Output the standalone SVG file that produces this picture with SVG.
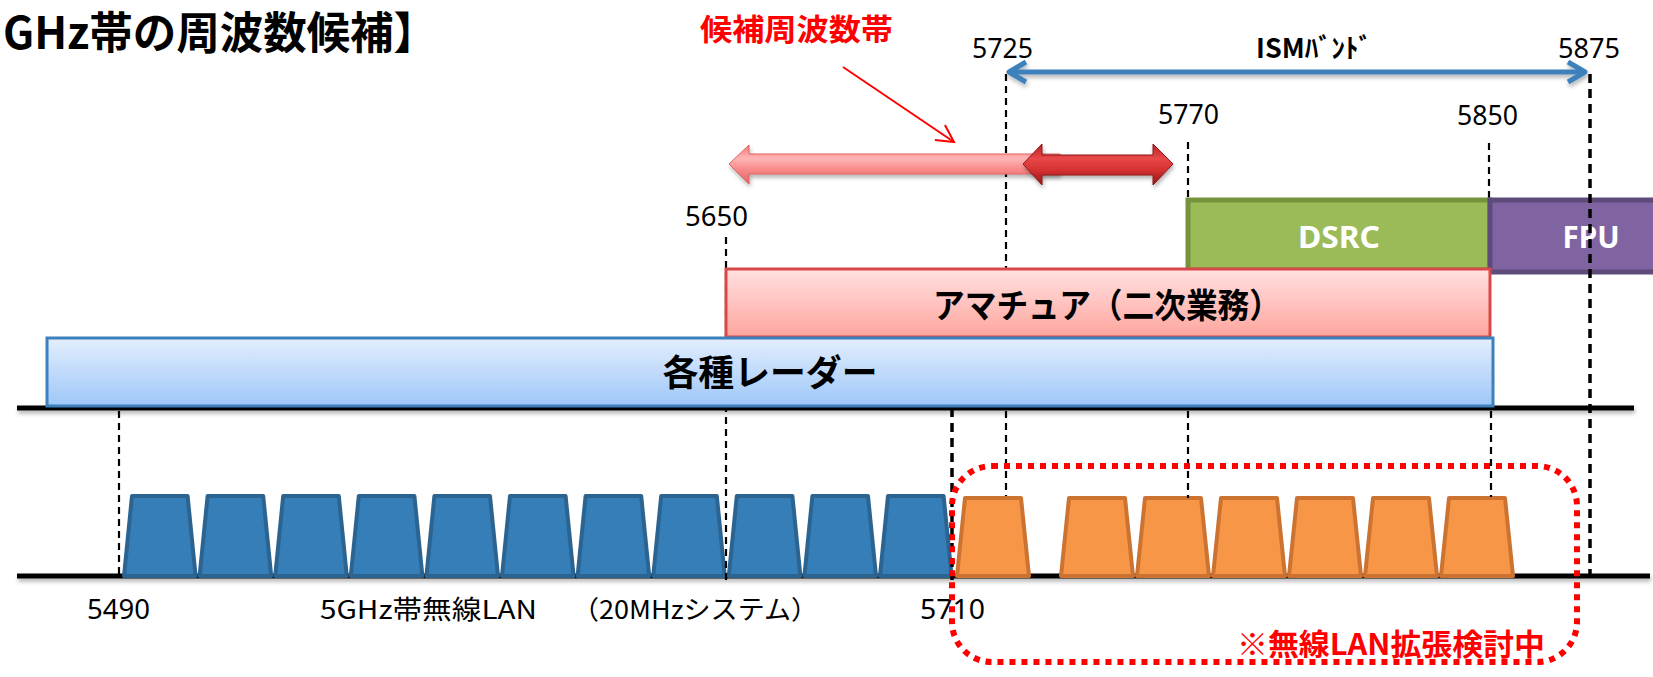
<svg xmlns="http://www.w3.org/2000/svg" xmlns:xlink="http://www.w3.org/1999/xlink" width="1653" height="677" viewBox="0 0 1653 677">
<defs>
<style>
.jp{font-family:'Noto Sans CJK JP','Noto Sans',sans-serif}
.b{font-weight:bold}
.num{font-family:'Noto Sans','Liberation Sans',sans-serif;font-size:28px;fill:#000}
.lbl{font-family:'Noto Sans CJK JP','Noto Sans',sans-serif;font-size:26px;fill:#000}
.dash{stroke:#000;stroke-width:2.2;stroke-dasharray:7 5;fill:none}
.dashb{stroke:#000;stroke-width:3.5;stroke-dasharray:9 6;fill:none}
.tb{fill:#357EB8;stroke:#2C6491;stroke-width:4;stroke-linejoin:round}
.to{fill:#F79646;stroke:#CC7332;stroke-width:4;stroke-linejoin:round}
.wt{font-family:'Noto Sans','Liberation Sans',sans-serif;font-weight:bold;font-size:30px;fill:#fff}
</style>
<linearGradient id="gRadar" x1="0" y1="0" x2="0" y2="1"><stop offset="0" stop-color="#E3EEFD"/><stop offset="1" stop-color="#9EC7F8"/></linearGradient>
<linearGradient id="gAma" x1="0" y1="0" x2="0" y2="1"><stop offset="0" stop-color="#FFE1E0"/><stop offset="1" stop-color="#FFA59E"/></linearGradient>
<linearGradient id="gLight" x1="0" y1="0" x2="0" y2="1"><stop offset="0" stop-color="#F77C7C"/><stop offset="0.35" stop-color="#FFB5B5"/><stop offset="0.6" stop-color="#F98D8D"/><stop offset="1" stop-color="#E46262"/></linearGradient>
<linearGradient id="gDark" x1="0" y1="0" x2="0" y2="1"><stop offset="0" stop-color="#B52222"/><stop offset="0.35" stop-color="#E84848"/><stop offset="0.65" stop-color="#D43030"/><stop offset="1" stop-color="#8E1818"/></linearGradient>
<filter id="sh" filterUnits="userSpaceOnUse" x="0" y="0" width="1653" height="677"><feDropShadow dx="1" dy="3" stdDeviation="2" flood-color="#000" flood-opacity="0.3"/></filter>
<polygon id="tbs" points="2,81 10,1 65.6,1 73.6,81"/>
<polygon id="tos" points="2,78 10,0 66,0 74,78"/>
<marker id="redHead" viewBox="0 0 20 20" refX="18" refY="10" markerWidth="20" markerHeight="20" markerUnits="userSpaceOnUse" orient="auto"><polyline points="1,1 18,10 1,19" fill="none" stroke="#FF0000" stroke-width="2"/></marker>
</defs>
<rect width="1653" height="677" fill="#fff"/>

<g id="title"><text class="jp b" x="3" y="49" font-size="44" textLength="434" lengthAdjust="spacingAndGlyphs">GHz帯の周波数候補】</text></g>

<g id="axes" filter="url(#sh)">
<rect x="17" y="405.5" width="1617" height="5" fill="#000"/>
<rect x="17" y="573.5" width="1633" height="5" fill="#000"/>
</g>

<g id="wlan-blue">
<use xlink:href="#tbs" href="#tbs" class="tb" x="122" y="495"/>
<use xlink:href="#tbs" href="#tbs" class="tb" x="197.6" y="495"/>
<use xlink:href="#tbs" href="#tbs" class="tb" x="273.2" y="495"/>
<use xlink:href="#tbs" href="#tbs" class="tb" x="348.8" y="495"/>
<use xlink:href="#tbs" href="#tbs" class="tb" x="424.4" y="495"/>
<use xlink:href="#tbs" href="#tbs" class="tb" x="500" y="495"/>
<use xlink:href="#tbs" href="#tbs" class="tb" x="575.6" y="495"/>
<use xlink:href="#tbs" href="#tbs" class="tb" x="651.2" y="495"/>
<use xlink:href="#tbs" href="#tbs" class="tb" x="726.8" y="495"/>
<use xlink:href="#tbs" href="#tbs" class="tb" x="802.4" y="495"/>
<use xlink:href="#tbs" href="#tbs" class="tb" x="878" y="495"/>
</g>

<g id="wlan-orange">
<use xlink:href="#tos" href="#tos" class="to" x="955" y="498"/>
<use xlink:href="#tos" href="#tos" class="to" x="1059" y="498"/>
<use xlink:href="#tos" href="#tos" class="to" x="1135" y="498"/>
<use xlink:href="#tos" href="#tos" class="to" x="1211" y="498"/>
<use xlink:href="#tos" href="#tos" class="to" x="1287" y="498"/>
<use xlink:href="#tos" href="#tos" class="to" x="1363" y="498"/>
<use xlink:href="#tos" href="#tos" class="to" x="1439" y="498"/>
</g>

<g id="guides">
<line class="dash" x1="119" y1="411" x2="119" y2="575"/>
<line class="dash" x1="726" y1="237" x2="726" y2="584"/>
<line class="dash" x1="1006" y1="74" x2="1006" y2="400"/>
<line class="dash" x1="1006" y1="411" x2="1006" y2="496"/>
<line class="dash" x1="1188" y1="142" x2="1188" y2="200"/>
<line class="dash" x1="1188" y1="411" x2="1188" y2="498"/>
<line class="dash" x1="1489" y1="143" x2="1489" y2="198"/>
<line class="dash" x1="1491" y1="411" x2="1491" y2="497"/>
<line class="dashb" x1="952" y1="408" x2="952" y2="580"/>
</g>

<g id="dsrc">
<rect x="1188" y="200" width="302" height="70" fill="#9BBB59" stroke="#76923C" stroke-width="5"/>
<text class="wt" x="1339" y="248" text-anchor="middle" textLength="82" lengthAdjust="spacingAndGlyphs">DSRC</text>
</g>
<g id="fpu">
<rect x="1490" y="200" width="170" height="72" fill="#8064A2" stroke="#5F4B7A" stroke-width="5"/>
<text class="wt" x="1591" y="248" text-anchor="middle" textLength="57" lengthAdjust="spacingAndGlyphs">FPU</text>
</g>
<g id="amateur">
<rect x="726" y="269" width="764" height="68" fill="url(#gAma)" stroke="#D94848" stroke-width="3"/>
<text class="jp b" x="1107" y="318" font-size="34" text-anchor="middle" textLength="348" lengthAdjust="spacingAndGlyphs">アマチュア（二次業務）</text>
</g>
<g id="radar">
<rect x="47" y="338" width="1446" height="68" fill="url(#gRadar)" stroke="#3C80BC" stroke-width="3"/>
<text class="jp b" x="770" y="386" font-size="36" text-anchor="middle" textLength="215" lengthAdjust="spacingAndGlyphs">各種レーダー</text>
</g>

<g id="guides-top">
<line class="dashb" x1="1590" y1="74" x2="1590" y2="574"/>
</g>

<g id="connectors">
<g filter="url(#sh)">
<line x1="1010" y1="72" x2="1584" y2="72" stroke="#3C80BC" stroke-width="5"/>
<polyline points="1026,62 1009,72 1026,82" fill="none" stroke="#3C80BC" stroke-width="5" stroke-linejoin="round"/>
<polyline points="1568,62 1585,72 1568,82" fill="none" stroke="#3C80BC" stroke-width="5" stroke-linejoin="round"/>
</g>
<line x1="843" y1="67" x2="954" y2="142" stroke="#FF0000" stroke-width="2" marker-end="url(#redHead)"/>
<polygon points="729,164 749,145 749,154 1060,154 1060,174 749,174 749,184" fill="url(#gLight)" stroke="#E06060" stroke-width="1" filter="url(#sh)"/>
<polygon points="1023,164 1042,144 1042,155 1153,155 1153,144 1173,164 1153,185 1153,175 1042,175 1042,185" fill="url(#gDark)" stroke="#8E1818" stroke-width="1" filter="url(#sh)"/>
</g>

<g id="candidate-label"><text class="jp b" x="700" y="40" font-size="30" fill="#FF0000" textLength="193" lengthAdjust="spacingAndGlyphs">候補周波数帯</text></g>
<g id="ism-label"><text class="jp b" x="1256" y="58" font-size="27" textLength="116" lengthAdjust="spacingAndGlyphs">ISMﾊﾞﾝﾄﾞ</text></g>

<g id="freq-labels">
<text class="num" x="972" y="58" textLength="61" lengthAdjust="spacingAndGlyphs">5725</text>
<text class="num" x="1558" y="58" textLength="62" lengthAdjust="spacingAndGlyphs">5875</text>
<text class="num" x="1158" y="124" textLength="61" lengthAdjust="spacingAndGlyphs">5770</text>
<text class="num" x="1457" y="125" textLength="61" lengthAdjust="spacingAndGlyphs">5850</text>
<text class="num" x="685" y="226" textLength="63" lengthAdjust="spacingAndGlyphs">5650</text>
<text class="num" x="87" y="619" textLength="63" lengthAdjust="spacingAndGlyphs">5490</text>
<text class="num" x="920" y="619" textLength="65" lengthAdjust="spacingAndGlyphs">5710</text>
</g>

<g id="wlan-labels">
<text class="lbl" x="320" y="619" textLength="217" lengthAdjust="spacingAndGlyphs">5GHz帯無線LAN</text>
<text class="lbl" x="572" y="619" textLength="246" lengthAdjust="spacingAndGlyphs">（20MHzシステム）</text>
</g>

<g id="expansion">
<rect x="952" y="466" width="625" height="196" rx="40" ry="40" fill="none" stroke="#FF0000" stroke-width="6" stroke-dasharray="6 6"/>
<text class="jp b" x="1237" y="655" font-size="30" fill="#FF0000" textLength="308" lengthAdjust="spacingAndGlyphs">※無線LAN拡張検討中</text>
</g>
</svg>
